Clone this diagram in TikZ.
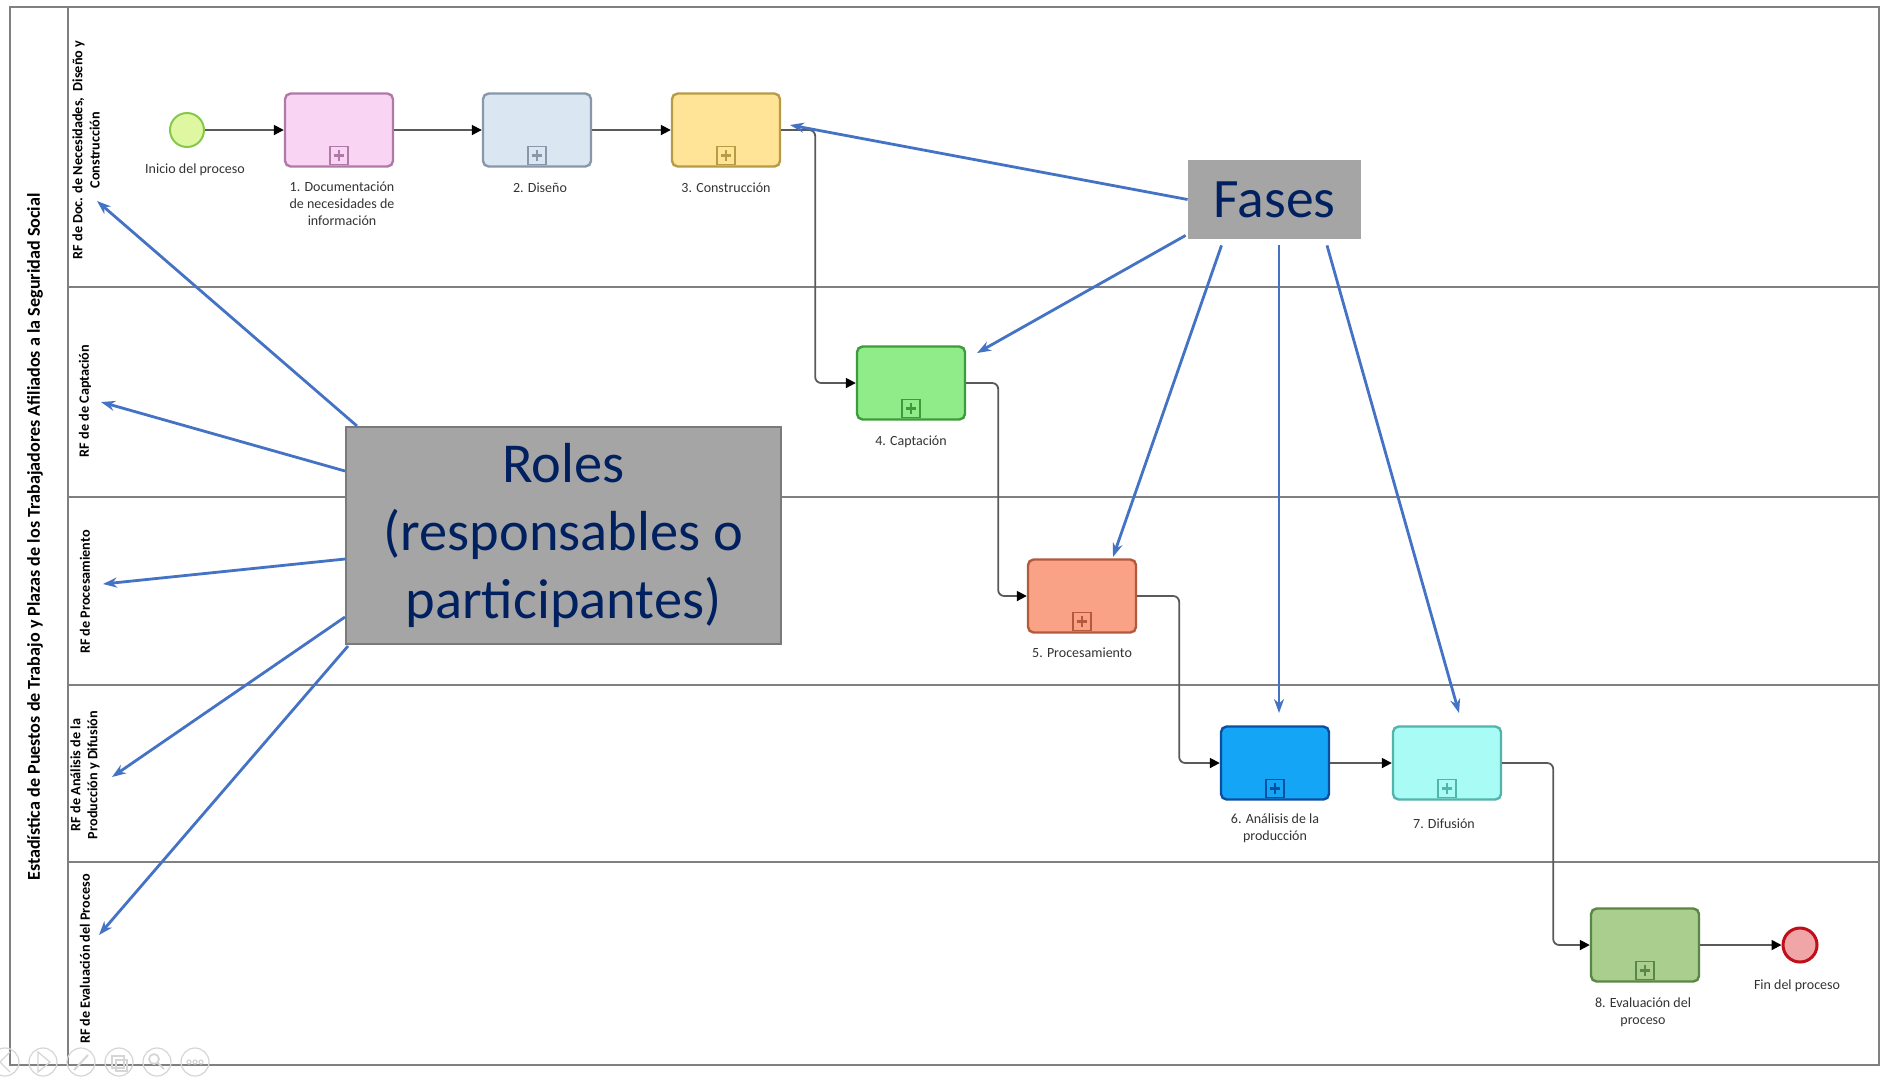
\documentclass[tikz,border=0pt]{standalone}
\usepackage{fontspec}
\setmainfont{Carlito}
\usetikzlibrary{arrows.meta,calc}
\definecolor{poolgray}{HTML}{808080}
\definecolor{conngray}{HTML}{5A5A5A}
\definecolor{blueA}{HTML}{4472C4}
\definecolor{boxgray}{HTML}{A5A5A5}
\definecolor{boxedge}{HTML}{7A7A7A}
\definecolor{navy}{HTML}{002060}
\definecolor{lblgray}{HTML}{333333}
\definecolor{icongray}{HTML}{D6D6D6}
\definecolor{sF}{HTML}{E0F7A2}\definecolor{sD}{HTML}{86C84A}
\definecolor{eF}{HTML}{F0A5A6}\definecolor{eD}{HTML}{C00E1A}
\definecolor{aF}{HTML}{FAD4F3}\definecolor{aD}{HTML}{B07AA8}
\definecolor{bF}{HTML}{DAE7F3}\definecolor{bD}{HTML}{8898A8}
\definecolor{cF}{HTML}{FFE396}\definecolor{cD}{HTML}{B89B45}
\definecolor{dF}{HTML}{90EC88}\definecolor{dD}{HTML}{3C9B3C}
\definecolor{fF}{HTML}{F9A285}\definecolor{fD}{HTML}{B45A3C}
\definecolor{gF}{HTML}{14A5F7}\definecolor{gD}{HTML}{0B4FA0}
\definecolor{hF}{HTML}{A8FCF5}\definecolor{hD}{HTML}{52B5AD}
\definecolor{kF}{HTML}{A9CE8D}\definecolor{kD}{HTML}{5A8745}
\newcommand\bpmntask[5]{%
  \node[taskbox, fill=#4, draw=#5] (#1) at (#2,#3) {};
  \node[submarker, draw=#5, fill=#4, anchor=south] (#1m) at ([yshift=1.3pt]#1.south) {};
  \draw[draw=#5, line width=1.3pt] ([xshift=-2.7pt]#1m.center) -- ([xshift=2.7pt]#1m.center)
        ([yshift=-2.7pt]#1m.center) -- ([yshift=2.7pt]#1m.center);
}
\begin{document}
\begin{tikzpicture}[x=0.5pt,y=-0.5pt,
  poolline/.style={draw=poolgray, line width=1.2pt},
  taskbox/.style={rectangle, rounded corners=2.8pt, minimum width=54pt, minimum height=36.5pt, line width=1.2pt, inner sep=0pt},
  submarker/.style={rectangle, minimum size=9pt, inner sep=0pt, line width=0.7pt},
  evt/.style={circle, minimum size=17pt, inner sep=0pt},
  lbl/.style={font=\fontsize{7}{8.5}\selectfont, text=lblgray, align=center, inner sep=0pt},
  lanelbl/.style={rotate=90, font=\bfseries\fontsize{7.1}{8.6}\selectfont, align=center, inner sep=0pt},
  flow/.style={draw=conngray, line width=0.9pt, rounded corners=3pt, -{Triangle[length=5pt,width=5pt,color=black]}},
  bluearrow/.style={draw=blueA, line width=1.4pt, -{Stealth[length=7pt,width=5pt]}},
  callout/.style={fill=boxgray, text=navy, inner sep=0pt, align=center},
  iconc/.style={draw=icongray, line width=0.6pt}
]
\useasboundingbox (0,0) rectangle (1888,1084);
\fill[white] (0,0) rectangle (1888,1084);

% pool and lanes
\draw[poolline] (10,7) rectangle (1879,1065);
\draw[poolline] (68,7) -- (68,1065);
\foreach \yy in {287,497,685,862} \draw[poolline] (68,\yy) -- (1879,\yy);

\node[rotate=90, font=\bfseries\fontsize{9.05}{11}\selectfont, inner sep=0pt] (pooltitle) at (35,537)
  {Estadística de Puestos de Trabajo y Plazas de los Trabajadores Afiliados a la Seguridad Social};
\node[lanelbl] (lane1) at (86,150) {RF de Doc. de Necesidades,\ \ Diseño y\\Construcción};
\node[lanelbl] (lane2) at (85,401) {RF de de Captación};
\node[lanelbl] (lane3) at (85,592) {RF de Procesamiento};
\node[lanelbl] (lane4) at (85,775) {RF de Análisis de la\\Producción y Difusión};
\node[lanelbl] (lane5) at (85,959) {RF de Evaluación del Proceso};

% events and tasks
\node[evt, fill=sF, draw=sD, line width=1pt] (s) at (187,130) {};
\bpmntask{t1}{339}{130}{aF}{aD}
\bpmntask{t2}{537}{130}{bF}{bD}
\bpmntask{t3}{726}{130}{cF}{cD}
\bpmntask{t4}{911}{383}{dF}{dD}
\bpmntask{t5}{1082}{596}{fF}{fD}
\bpmntask{t6}{1275}{763}{gF}{gD}
\bpmntask{t7}{1447}{763}{hF}{hD}
\bpmntask{t8}{1645}{945}{kF}{kD}
\node[evt, fill=eF, draw=eD, line width=1.5pt] (e) at (1800,945) {};

% labels
\node[lbl] (sl) at (195,170) {Inicio del proceso};
\node[lbl] (t1l) at (342,204) {1. Documentación\\de necesidades de\\información};
\node[lbl] (t2l) at (540,188) {2. Diseño};
\node[lbl] (t3l) at (726,188) {3. Construcción};
\node[lbl] (t4l) at (911,442) {4. Captación};
\node[lbl] (t5l) at (1082,653) {5. Procesamiento};
\node[lbl] (t6l) at (1275,828) {6. Análisis de la\\producción};
\node[lbl] (t7l) at (1444,824) {7. Difusión};
\node[lbl] (t8l) at (1643,1012) {8. Evaluación del\\proceso};
\node[lbl] (el) at (1797,986) {Fin del proceso};

% sequence flows
\draw[flow] (s) -- (t1);
\draw[flow] (t1) -- (t2);
\draw[flow] (t2) -- (t3);
\draw[flow] (t3.east) -- ++(34,0) |- (t4.west);
\draw[flow] (t4.east) -- ++(32,0) |- (t5.west);
\draw[flow] (t5.east) -- ++(42,0) |- (t6.west);
\draw[flow] (t6) -- (t7);
\draw[flow] (t7.east) -- ++(51,0) |- (t8.west);
\draw[flow] (t8) -- (e);

% callout boxes
\node[callout, minimum width=86.5pt, minimum height=39.5pt, font=\fontsize{27.8}{32}\selectfont] (F) at (1274.5,199.5) {Fases};
\coordinate (fa1) at (790,125);
\coordinate (fa2) at (977,353);
\coordinate (fa3) at (1113,557);
\coordinate (fa4) at (1279,713);
\coordinate (fa5) at (1459,713);
\draw[bluearrow] (F.west) -- (fa1);
\draw[bluearrow] ($(F.south west)+(-2,-4)$) -- (fa2);
\draw[bluearrow] ($(F.south)+(-53,6)$) -- (fa3);
\draw[bluearrow] ($(F.south)+(4.5,6)$) -- (fa4);
\draw[bluearrow] ($(F.south)+(52.5,6)$) -- (fa5);

\coordinate (ra1) at (97,201);
\coordinate (ra2) at (101,402);
\coordinate (ra3) at (103,584);
\coordinate (ra4) at (112,777);
\coordinate (ra5) at (99,935);
\node[callout, draw=boxedge, line width=1pt, minimum width=217.5pt, minimum height=108.5pt, font=\fontsize{28.2}{34}\selectfont] (R) at (563.5,535.5)
  {Roles\\(responsables o\\participantes)};
\draw[bluearrow] ($(R.north west)+(12,0)$) -- (ra1);
\draw[bluearrow] ($(R.north west)+(0,45)$) -- (ra2);
\draw[bluearrow] ($(R.north west)+(0,133)$) -- (ra3);
\draw[bluearrow] ($(R.north west)+(0,191)$) -- (ra4);
\draw[bluearrow] ($(R.south west)+(3,1)$) -- (ra5);

% faint slideshow controls
\foreach \cx in {5,43,81,119,157,195} \draw[iconc] (\cx,1062) circle[radius=14];
\draw[iconc] (10,1052) -- (0,1062) -- (10,1072);
\draw[iconc] (38,1052) -- (50,1062) -- (38,1072) -- cycle;
\draw[iconc, line width=1pt] (74,1070) -- (88,1055);
\draw[iconc] (112,1056) rectangle (124,1068) (116,1060) rectangle (127,1071);
\draw[iconc, line width=0.9pt] (154,1059) circle[radius=5] (158,1063) -- (164,1069);
\foreach \dx in {-6,0,6} \draw[iconc] (195+\dx,1062) circle[radius=2];
\end{tikzpicture}
\end{document}
